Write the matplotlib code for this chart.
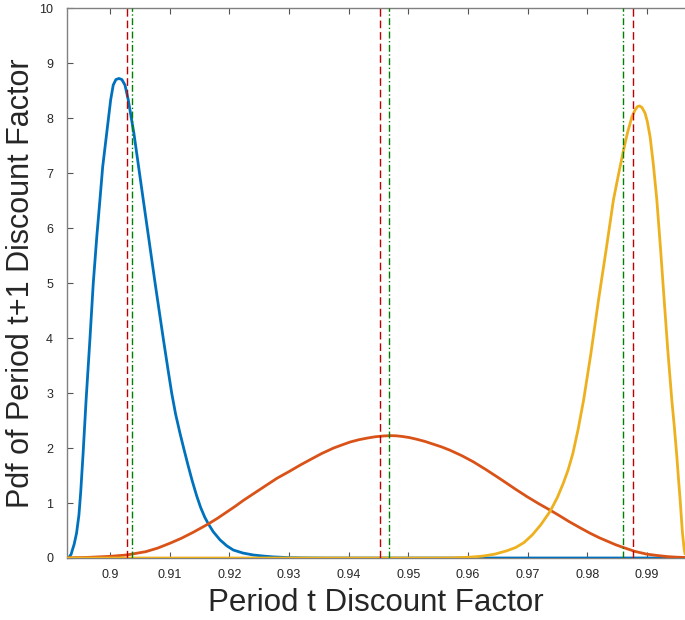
import numpy as np
import matplotlib
matplotlib.use('Agg')
import matplotlib.pyplot as plt

plt.rcParams['font.family'] = ['Liberation Sans', 'DejaVu Sans']

# pdf curves (discount factor, density)
blue_x = [0.8928, 0.8932, 0.8935, 0.8937, 0.8940, 0.8944, 0.8948, 0.8951, 0.8955,
          0.8960, 0.89665, 0.8972, 0.8978, 0.89832, 0.89878, 0.89945, 0.90012,
          0.90055, 0.9010, 0.90151, 0.9020, 0.90252, 0.90307, 0.90402, 0.90481,
          0.90559, 0.9066, 0.90758, 0.90894, 0.9097, 0.91035, 0.9110, 0.91174,
          0.9124, 0.91313, 0.9138, 0.91454, 0.9152, 0.9159, 0.9165, 0.9173,
          0.91845, 0.9196, 0.92068, 0.9223, 0.92403, 0.9257, 0.92739, 0.9300,
          0.9330, 0.9360, 0.9964]
blue_y = [0.0, 0.02, 0.07, 0.145, 0.25, 0.45, 0.78, 1.20, 1.90,
          2.87, 3.99, 4.99, 5.85, 6.51, 7.11, 7.72, 8.33,
          8.60, 8.70, 8.72, 8.70, 8.60, 8.33, 7.72, 7.11,
          6.51, 5.74, 4.99, 3.99, 3.45, 3.00, 2.62, 2.27,
          1.98, 1.67, 1.40, 1.13, 0.92, 0.74, 0.62, 0.48,
          0.33, 0.22, 0.145, 0.09, 0.055, 0.035, 0.02, 0.007,
          0.002, 0.0, 0.0]

orange_x = [0.8928, 0.8960, 0.9000, 0.9028, 0.9060, 0.9080, 0.9101, 0.9120, 0.9140,
            0.9165, 0.9180, 0.9195, 0.9210, 0.9224, 0.9238, 0.9252, 0.9266, 0.9280,
            0.9300, 0.9319, 0.9336, 0.9355, 0.9375, 0.9390, 0.9403, 0.9417, 0.9431,
            0.9445, 0.9460, 0.9470, 0.9480, 0.9490, 0.9502, 0.9514, 0.9528, 0.9542,
            0.9556, 0.9570, 0.9590, 0.9609, 0.9630, 0.9654, 0.9665, 0.9680, 0.9700,
            0.9720, 0.9738, 0.9755, 0.9770, 0.9788, 0.9805, 0.9820, 0.9835, 0.9848,
            0.9861, 0.9880, 0.9900, 0.9918, 0.9935, 0.9950, 0.9964]
orange_y = [0.004, 0.010, 0.030, 0.055, 0.115, 0.18, 0.27, 0.36, 0.47,
            0.62, 0.72, 0.83, 0.94, 1.05, 1.15, 1.25, 1.35, 1.45,
            1.57, 1.69, 1.79, 1.90, 2.00, 2.06, 2.11, 2.15, 2.18,
            2.205, 2.22, 2.225, 2.222, 2.21, 2.19, 2.16, 2.12, 2.07,
            2.02, 1.96, 1.86, 1.75, 1.61, 1.44, 1.36, 1.25, 1.11,
            0.98, 0.87, 0.76, 0.66, 0.55, 0.45, 0.37, 0.30, 0.24,
            0.19, 0.12, 0.07, 0.045, 0.025, 0.015, 0.01]

yellow_x = [0.8928, 0.9500, 0.9550, 0.9580, 0.9598, 0.9612, 0.9626, 0.9645, 0.9665,
            0.9680, 0.9694, 0.9708, 0.9722, 0.9738, 0.9750, 0.9760, 0.9768, 0.9776,
            0.9785, 0.9794, 0.9806, 0.9819, 0.9832, 0.9844, 0.9853, 0.9861, 0.9868,
            0.9875, 0.9880, 0.98843, 0.9888, 0.9892, 0.9897, 0.9901, 0.99056, 0.9911,
            0.99168, 0.9923, 0.99291, 0.9935, 0.99419, 0.9946, 0.99503, 0.9953,
            0.99559, 0.9958, 0.99598, 0.99627, 0.9964]
yellow_y = [0.0, 0.0, 0.001, 0.005, 0.012, 0.022, 0.036, 0.07, 0.13,
            0.19, 0.28, 0.42, 0.60, 0.85, 1.10, 1.36, 1.60, 1.90,
            2.35, 2.87, 3.70, 4.69, 5.62, 6.51, 7.00, 7.42, 7.75,
            8.02, 8.14, 8.21, 8.22, 8.19, 8.09, 7.93, 7.65, 7.15,
            6.51, 5.62, 4.69, 3.80, 2.87, 2.40, 1.85, 1.45,
            1.05, 0.72, 0.45, 0.15, 0.08]

# mean (red) and median (green) of each pdf
mean_x = [0.9028, 0.94528, 0.98776]
median_x = [0.9037, 0.94679, 0.98600]

fig = plt.figure(figsize=(6.85, 6.2), dpi=100)
ax = fig.add_axes([0.0978, 0.1, 0.9022, 0.887])

ax.plot(blue_x, blue_y, color='#0072BD', lw=2.0, zorder=3)
ax.plot(orange_x, orange_y, color='#D95319', lw=2.0, zorder=3)
ax.plot(yellow_x, yellow_y, color='#EDB120', lw=2.0, zorder=3)

for m in mean_x:
    ax.axvline(m, color='#C00000', lw=1.0, dashes=(5.5, 2.8), zorder=4)
for m in median_x:
    ax.axvline(m, color='#008000', lw=1.0, dashes=(5.0, 1.8, 1.0, 1.8), zorder=4)

ax.set_xlim(0.8928, 0.9964)
ax.set_ylim(0, 10)
ax.set_xticks(np.arange(0.90, 0.995, 0.01))
ax.set_xticklabels(['0.9', '0.91', '0.92', '0.93', '0.94', '0.95', '0.96', '0.97', '0.98', '0.99'])
ax.set_yticks(range(11))

axis_grey = '#808080'
for side in ['left', 'top', 'bottom']:
    ax.spines[side].set_color(axis_grey)
    ax.spines[side].set_linewidth(1.0)
ax.spines['right'].set_visible(False)
ax.tick_params(axis='both', direction='in', length=4.5, width=0.8, color='#555555',
               labelsize=9, labelcolor='#262626', top=True, right=False)
ax.tick_params(axis='x', pad=8)
ax.tick_params(axis='y', pad=10)

ax.set_xlabel('Period t Discount Factor', fontsize=22.5, color='#262626', labelpad=5)
ax.set_ylabel('Pdf of Period t+1 Discount Factor', fontsize=22, color='#262626', labelpad=2)

fig.savefig('out.png', dpi=100)
